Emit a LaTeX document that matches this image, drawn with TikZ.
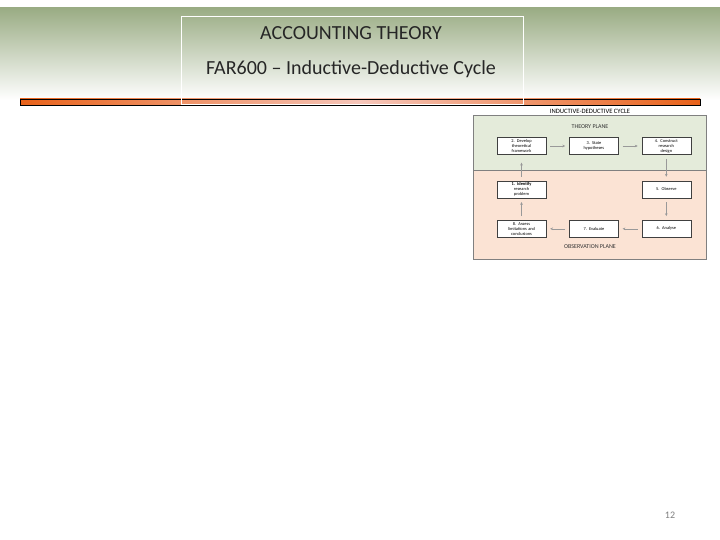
\documentclass[tikz,border=0pt]{standalone}
\usepackage{fontspec}
\setmainfont{Carlito}
\usetikzlibrary{positioning,arrows.meta}

\definecolor{bannergreen}{HTML}{9AAC84}
\definecolor{barorange}{HTML}{E8621A}
\definecolor{barpink}{HTML}{F6C6BA}
\definecolor{theorygreen}{HTML}{E4EBDA}
\definecolor{obspeach}{HTML}{FBE3D4}
\definecolor{pagegray}{HTML}{7F7F7F}

\tikzset{
	stepbox/.style={draw=black!75, fill=white, line width=0.4pt, minimum width=49pt, minimum height=17pt,
		text width=47pt, align=center, inner sep=0.5pt, font=\fontsize{4.4}{5}\selectfont},
	flow/.style={-{Stealth[length=2.8pt,width=2.6pt]}, draw=gray!80, line width=0.4pt, shorten <=4pt, shorten >=4pt},
	heading/.style={font=\fontsize{20}{22}\selectfont, text=black!85},
	planelabel/.style={font=\fontsize{6}{6}\selectfont, text=black!80},
}

\begin{document}
\begin{tikzpicture}[x=1pt, y=-1pt, node distance=23pt]
		\useasboundingbox (0,0) rectangle (720,540);
		\fill[white] (0,0) rectangle (720,540);
		\shade[top color=bannergreen, bottom color=white] (0,8) rectangle (720,100);
		
		\shade[left color=barorange, right color=barorange, middle color=barpink] (20,99) rectangle (700,105);
		\draw[black, line width=0.8pt] (20,99) rectangle (700,105);
		\draw[white, line width=0.6pt] (181,16) rectangle (523,104);
		
		\node[heading] (title) at (351,33) {ACCOUNTING THEORY};
		\node[heading] (subtitle) at (351,69) {FAR600 -- Inductive-Deductive Cycle};
		
		\node[font=\fontsize{6.6}{7}\selectfont] (cycle) at (590,111) {INDUCTIVE-DEDUCTIVE CYCLE};
		\fill[theorygreen] (473,115) rectangle (706,170);
		\fill[obspeach] (473,170) rectangle (706,259);
		\draw[gray, line width=0.4pt] (473,115) rectangle (706,259);
		\draw[gray, line width=0.4pt] (473,170) -- (706,170);
		\node[planelabel] (theory) at (590,127) {THEORY PLANE};
		\node[planelabel] (observation) at (590,247) {OBSERVATION PLANE};
		
		\node[stepbox] (develop) at (521.5,146) {2. Develop\\theoretical\\framework};
		\node[stepbox, right=of develop] (hypo) {3. State\\hypotheses};
		\node[stepbox, right=of hypo] (design) {4. Construct\\research\\design};
		\node[stepbox, below=26pt of develop] (problem) {\textbf{1. Identify}\\research\\problem};
		\node[stepbox, below=26pt of design] (observe) {5. Observe};
		\node[stepbox, below=22pt of observe] (analyse) {6. Analyse};
		\node[stepbox, left=of analyse] (evaluate) {7. Evaluate};
		\node[stepbox, left=of evaluate] (assess) {8. Assess\\limitations and\\conclusions};
		
		\draw[flow] (develop) -- (hypo);
		\draw[flow] (hypo) -- (design);
		\draw[flow] (design) -- (observe);
		\draw[flow] (observe) -- (analyse);
		\draw[flow] (analyse) -- (evaluate);
		\draw[flow] (evaluate) -- (assess);
		\draw[flow] (assess) -- (problem);
		\draw[flow, shorten >=8pt] (problem) -- (develop);
		
		\node[text=pagegray, font=\fontsize{10}{12}\selectfont] (pagenum) at (670,515) {12};
	\end{tikzpicture}
\end{document}
